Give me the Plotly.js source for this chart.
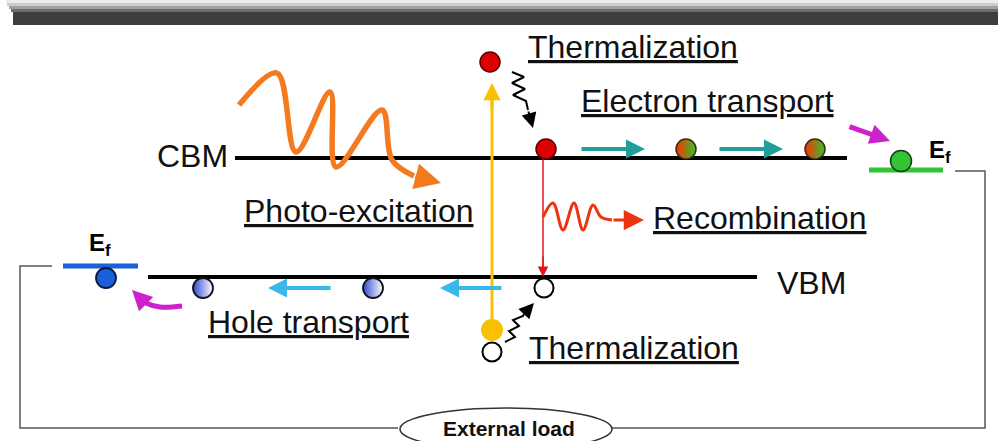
<!DOCTYPE html>
<html><head><meta charset="utf-8">
<script src="https://cdn.plot.ly/plotly-3.0.1.min.js"></script>
<style>html,body{margin:0;padding:0;background:#fff;overflow:hidden}#chart{width:998px;height:441px}</style>
</head><body><div id="chart"></div>
<script>
// ---- diagram data ----
const bandNames = ['CBM', 'VBM'];
const bandY = [158, 277];
const bandX0 = [235, 148];
const bandX1 = [847, 757];
const bandLabelX = [155, 775];
const bandLabelY = [156, 283];

const fermiLabel = 'E<sub>f</sub>';
const fermiX0 = [869, 63];
const fermiX1 = [943, 138];
const fermiY = [170, 266];
const fermiColors = ['#33c433', '#1a5fdc'];
const fermiLabelX = [927, 87];
const fermiLabelY = [151, 244];

const processLabels = ['Thermalization', 'Electron transport', 'Photo-excitation', 'Recombination', 'Hole transport', 'Thermalization'];
const processX = [526, 579, 242, 651, 206, 527];
const processY = [47, 101, 211, 218, 322, 348];

const hotElectronX = [490, 546];
const hotElectronY = [62, 149];
const movingElectronX = [686, 815];
const movingElectronY = [149, 149];
const collectedElectron = [901, 161];
const movingHoleX = [203, 373];
const movingHoleY = [288, 288];
const collectedHole = [106, 278];
const vacantHoleX = [544, 492];
const vacantHoleY = [288, 352];
const hotHole = [492, 330];

const orangeWaveX = [239, 277, 296, 330, 336, 382, 392, 414];
const orangeWaveY = [105, 73, 152, 92, 167, 110, 160, 176];
const redWaveX = [543, 553, 563, 574, 583, 593, 601, 612];
const redWaveY = [217, 203, 230, 203, 230, 205, 217, 220];
const topSquiggleX = [512, 524, 512, 525, 513, 526, 528];
const topSquiggleY = [72, 77, 83, 89, 95, 101, 110];
const lowSquiggleX = [505, 515, 509, 519, 513, 523, 524];
const lowSquiggleY = [342, 337, 331, 326, 320, 316, 314];
const holeCurveX = [182, 160, 146, 140];
const holeCurveY = [306, 307, 303, 298];

const circuitX = [52, 20, 20, 398, null, 612, 985, 985, 955];
const circuitY = [266, 266, 428, 428, null, 428, 428, 171, 171];
const loadLabel = 'External load';

// ---- build ----
const traces = [];
function line(xs, ys, color, width, shape) {
  traces.push({x: xs, y: ys, mode: 'lines', type: 'scatter', hoverinfo: 'skip',
    line: {color: color, width: width, shape: shape || 'linear', smoothing: 1}});
}
function dots(xs, ys, color, size, lineColor, lineWidth, grad) {
  const m = {color: color, size: size, line: {color: lineColor, width: lineWidth}};
  if (grad) m.gradient = grad;
  traces.push({x: xs, y: ys, mode: 'markers', type: 'scatter', hoverinfo: 'skip', marker: m});
}

line(circuitX, circuitY, '#555', 1.5);
for (let i = 0; i < bandNames.length; i++) line([bandX0[i], bandX1[i]], [bandY[i], bandY[i]], '#000', 4);
for (let i = 0; i < fermiY.length; i++) line([fermiX0[i], fermiX1[i]], [fermiY[i], fermiY[i]], fermiColors[i], 5);
line([hotHole[0], hotHole[0]], [hotHole[1], 100], '#f7c100', 3);
line([vacantHoleX[0] - 1, vacantHoleX[0] - 1], [bandY[0], 268], '#e8141b', 1.5);
line(orangeWaveX, orangeWaveY, '#f47a20', 5.5, 'spline');
line(redWaveX, redWaveY, '#ee3311', 3, 'spline');
line(topSquiggleX, topSquiggleY, '#000', 2);
line(lowSquiggleX, lowSquiggleY, '#000', 2);
line(holeCurveX, holeCurveY, '#cc22cc', 5, 'spline');

dots(hotElectronX, hotElectronY, '#dd0000', 20, '#5a0000', 1.5);
dots(movingElectronX, movingElectronY, '#ff3000', 20, '#3a2a10', 1.5, {type: 'horizontal', color: '#2fc42f'});
dots([collectedElectron[0]], [collectedElectron[1]], '#33c433', 21, '#1a3a1a', 1.5);
dots(movingHoleX, movingHoleY, '#3448d0', 20, '#111', 1.8, {type: 'horizontal', color: '#ffffff'});
dots([collectedHole[0]], [collectedHole[1]], '#1a5fdc', 20, '#0a1a3a', 1.8);
dots([hotHole[0]], [hotHole[1]], '#f7c100', 22, '#f7c100', 0);
dots(vacantHoleX, vacantHoleY, '#ffffff', 19, '#000', 2);

const ann = [];
function arrow(tail, tip, color, width, size) {
  ann.push({x: tip[0], y: tip[1], ax: tail[0], ay: tail[1], xref: 'x', yref: 'y', axref: 'x', ayref: 'y',
    text: '', showarrow: true, arrowhead: 2, arrowsize: size, arrowwidth: width, arrowcolor: color,
    standoff: 0, startstandoff: 0, font: {size: 1}});
}
arrow([hotHole[0], 110], [hotHole[0], 83], '#f7c100', 3, 1.15);
arrow([vacantHoleX[0] - 1, 255], [vacantHoleX[0] - 1, 277], '#e8141b', 1.5, 1.4);
arrow([580, 149], [645, 149], '#1f9e9c', 4, 0.95);
arrow([718, 149], [783, 149], '#1f9e9c', 4, 0.95);
arrow([332, 288], [268, 288], '#3ab8ea', 4, 0.95);
arrow([503, 288], [440, 288], '#3ab8ea', 4, 0.95);
arrow([848, 126], [890, 141], '#cc22cc', 5, 0.8);
arrow([144, 302], [132, 290], '#cc22cc', 5, 0.8);
arrow([414, 176], [441, 183], '#f47a20', 5.5, 0.95);
arrow([612, 220], [644, 220], '#ee3311', 3, 1.35);
arrow([528, 110], [533, 128], '#000', 2, 1.5);
arrow([523, 315], [534, 303], '#000', 2, 1.5);

const FONT = 'Liberation Sans, Arial, sans-serif';
for (let i = 0; i < bandNames.length; i++) {
  ann.push({x: bandLabelX[i], y: bandLabelY[i], xref: 'x', yref: 'y', text: bandNames[i], showarrow: false,
    xanchor: 'left', yanchor: 'middle', font: {family: FONT, size: 32, color: '#111'}});
}
for (let i = 0; i < processLabels.length; i++) {
  ann.push({x: processX[i], y: processY[i], xref: 'x', yref: 'y', text: '<u>' + processLabels[i] + '</u>', showarrow: false,
    xanchor: 'left', yanchor: 'middle', font: {family: FONT, size: 32, color: '#111'}});
}
for (let i = 0; i < fermiLabelX.length; i++) {
  ann.push({x: fermiLabelX[i], y: fermiLabelY[i], xref: 'x', yref: 'y', text: '<b>' + fermiLabel + '</b>', showarrow: false,
    xanchor: 'left', yanchor: 'middle', font: {family: FONT, size: 24, color: '#000'}});
}
ann.push({x: 509, y: 428, xref: 'x', yref: 'y', text: '<b>' + loadLabel + '</b>', showarrow: false,
  xanchor: 'center', yanchor: 'middle', font: {family: FONT, size: 21, color: '#111'}});

const shapes = [];
const barLayers = [[0, 3, '#ececec', 6], [3, 6, '#cdcdcd', 7], [6, 9, '#a0a0a0', 9], [9, 12, '#6e6e6e', 11], [12, 25, '#3e3e3e', 13]];
barLayers.forEach(l => shapes.push({type: 'rect', xref: 'x', yref: 'y', x0: l[3], x1: 998, y0: l[0], y1: l[1], fillcolor: l[2], line: {width: 0}, layer: 'below'}));
shapes.push({type: 'circle', xref: 'x', yref: 'y', x0: 400, x1: 612, y0: 408, y1: 450, fillcolor: '#fff', line: {color: '#333', width: 1.5}});

const layout = {
  width: 998, height: 441, margin: {l: 0, r: 0, t: 0, b: 0},
  paper_bgcolor: '#fff', plot_bgcolor: '#fff', showlegend: false,
  xaxis: {range: [0, 998], visible: false, fixedrange: true},
  yaxis: {range: [441, 0], visible: false, fixedrange: true},
  shapes: shapes, annotations: ann
};
Plotly.newPlot('chart', traces, layout, {staticPlot: true, displayModeBar: false});
</script></body></html>
